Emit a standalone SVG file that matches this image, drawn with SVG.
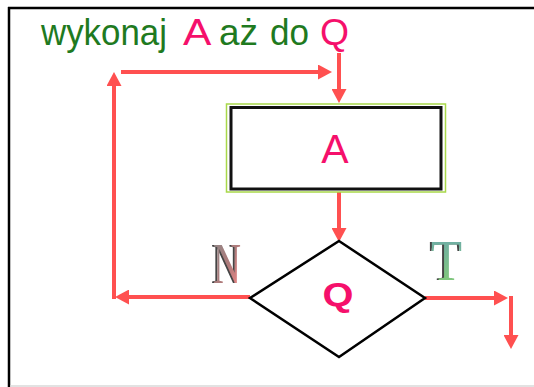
<svg xmlns="http://www.w3.org/2000/svg" width="534" height="387" viewBox="0 0 534 387">
  <defs>
    <marker id="head" viewBox="0 0 14 15" refX="0" refY="7.5" markerWidth="14" markerHeight="15" markerUnits="userSpaceOnUse" orient="auto">
      <path d="M0,0 L14,7.5 L0,15 Z" fill="#ff5050"/>
    </marker>
    <linearGradient id="gN" x1="0" y1="0" x2="1" y2="1">
      <stop offset="0" stop-color="#8a8a8a"/>
      <stop offset="0.55" stop-color="#b07a7a"/>
      <stop offset="1" stop-color="#ff8a8a"/>
    </linearGradient>
    <linearGradient id="gT" x1="0" y1="0" x2="0" y2="1">
      <stop offset="0" stop-color="#6aa6b0"/>
      <stop offset="1" stop-color="#86d070"/>
    </linearGradient>
    <!-- dark offset edge for the embossed branch letters -->
    <filter id="edge" x="-20%" y="-20%" width="140%" height="140%">
      <feOffset in="SourceAlpha" dx="-2" dy="0" result="off"/>
      <feFlood flood-color="#444"/>
      <feComposite in2="off" operator="in" result="shadow"/>
      <feMerge>
        <feMergeNode in="shadow"/>
        <feMergeNode in="SourceGraphic"/>
      </feMerge>
    </filter>
  </defs>
  <style>
    .flow { fill: none; stroke: #ff5050; stroke-width: 4; marker-end: url(#head); }
    .title { font-family: "Liberation Sans", Arial, sans-serif; font-size: 37px; }
    .green { fill: #1f7a1f; }
    .pink { fill: #f5106b; }
    .lbl { font-family: "Liberation Serif", "Times New Roman", serif; font-size: 58px; filter: url(#edge); }
  </style>

  <rect x="0" y="0" width="534" height="387" fill="#ffffff"/>
  <!-- frame -->
  <line x1="8" y1="8" x2="534" y2="8" stroke="#000" stroke-width="2.5"/>
  <line x1="9" y1="7" x2="9" y2="387" stroke="#000" stroke-width="2.5"/>
  <line x1="10" y1="386" x2="534" y2="386" stroke="#d8d8d8" stroke-width="1.5"/>

  <!-- heading -->
  <text class="title" y="45">
    <tspan class="green" x="41" textLength="126" lengthAdjust="spacingAndGlyphs">wykonaj</tspan>
    <tspan class="pink" x="183" textLength="26" lengthAdjust="spacingAndGlyphs">A</tspan>
    <tspan class="green" x="219" textLength="39" lengthAdjust="spacingAndGlyphs">aż</tspan>
    <tspan class="green" x="270" textLength="39" lengthAdjust="spacingAndGlyphs">do</tspan>
    <tspan class="pink" x="320" textLength="29" lengthAdjust="spacingAndGlyphs">Q</tspan>
  </text>

  <!-- connectors -->
  <g id="connectors">
    <line class="flow" x1="250" y1="297" x2="129" y2="297"/>
    <line class="flow" x1="114" y1="299" x2="114" y2="86"/>
    <line class="flow" x1="121" y1="72" x2="318" y2="72"/>
    <line class="flow" x1="339" y1="53" x2="339" y2="89"/>
    <line class="flow" x1="339" y1="192" x2="339" y2="228"/>
    <line class="flow" x1="425" y1="298" x2="494" y2="298"/>
    <line class="flow" x1="511" y1="296" x2="511" y2="335"/>
  </g>

  <!-- process block A -->
  <g id="nodeA">
    <rect x="226.5" y="104" width="219" height="88" fill="#ffffff" stroke="#a8d84a" stroke-width="1.5"/>
    <rect x="231" y="107.5" width="210" height="81.5" fill="none" stroke="#111" stroke-width="3"/>
    <text x="335" y="163" text-anchor="middle" font-family="Liberation Sans, Arial, sans-serif" font-size="41" class="pink">A</text>
  </g>

  <!-- decision Q -->
  <g id="nodeQ">
    <polygon points="339,241 425,298 339,357 250,298" fill="#ffffff" stroke="#000" stroke-width="2.5"/>
    <text x="338" y="306" text-anchor="middle" font-family="Liberation Sans, Arial, sans-serif" font-size="34" font-weight="bold" class="pink" textLength="31" lengthAdjust="spacingAndGlyphs">Q</text>
  </g>

  <!-- branch labels -->
  <g id="labelN">
    <text class="lbl" x="213" y="283" fill="url(#gN)" textLength="28" lengthAdjust="spacingAndGlyphs">N</text>
  </g>
  <g id="labelT">
    <text class="lbl" x="431" y="280" fill="url(#gT)" textLength="31" lengthAdjust="spacingAndGlyphs">T</text>
  </g>
</svg>
